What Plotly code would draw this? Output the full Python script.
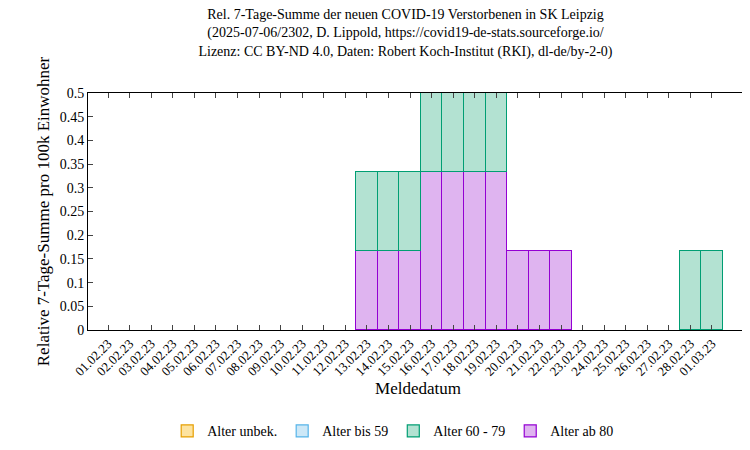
import plotly.graph_objects as go

dates = ["01.02.23","02.02.23","03.02.23","04.02.23","05.02.23","06.02.23","07.02.23","08.02.23",
         "09.02.23","10.02.23","11.02.23","12.02.23","13.02.23","14.02.23","15.02.23","16.02.23",
         "17.02.23","18.02.23","19.02.23","20.02.23","21.02.23","22.02.23","23.02.23","24.02.23",
         "25.02.23","26.02.23","27.02.23","28.02.23","01.03.23"]
unbek = [0]*29
bis59 = [0]*29
a60_79 = [0]*12 + [0.167,0.167,0.167,0.167,0.167,0.167,0.167] + [0]*8 + [0.167,0.167]
ab80 = [0]*12 + [0.167,0.167,0.167,0.333,0.333,0.333,0.333,0.167,0.167,0.167] + [0]*7

x = list(range(len(dates)))
series = [("Alter ab 80", ab80, "#dfb4f0", "#9400d3"),
          ("Alter 60 - 79", a60_79, "#b3e2d2", "#009e73"),
          ("Alter bis 59", bis59, "#cde8f7", "#56b4e9"),
          ("Alter unbek.", unbek, "#fde3a0", "#e69f00")]

fig = go.Figure()
for name, vals, fill, line in series:
    yv = [v if v else None for v in vals]
    fig.add_trace(go.Bar(x=x, y=yv, name=name, marker=dict(color=fill, line=dict(color=line, width=1.2))))

fig.update_layout(
    barmode="stack", bargap=0, width=750, height=450,
    font=dict(family="Liberation Serif, Times New Roman, serif", size=14, color="black"),
    plot_bgcolor="white", paper_bgcolor="white",
    margin=dict(l=80, r=10, t=85, b=99),
    title=dict(text="Rel. 7-Tage-Summe der neuen COVID-19 Verstorbenen in SK Leipzig<br>(2025-07-06/2302, D. Lippold, https://covid19-de-stats.sourceforge.io/<br>Lizenz: CC BY-ND 4.0, Daten: Robert Koch-Institut (RKI), dl-de/by-2-0)",
               x=0.53, xanchor="center", y=0.975, yanchor="top", font=dict(size=14)),
    legend=dict(orientation="h", x=0.12, y=-0.36, xanchor="left", yanchor="top",
                font=dict(size=14), traceorder="reversed"),
    showlegend=True,
)
fig.update_xaxes(range=[-0.93, 29.67], tickvals=x, ticktext=dates, tickangle=-45,
                 showline=True, linecolor="black", mirror="ticks", ticks="inside", ticklen=5,
                 title=dict(text="Meldedatum", standoff=0), tickfont=dict(size=13))
fig.update_yaxes(range=[0, 0.5], dtick=0.05, showgrid=False, zeroline=False,
                 showline=True, linecolor="black", mirror="ticks", ticks="inside", ticklen=5,
                 title=dict(text="Relative 7-Tage-Summe pro 100k Einwohner", standoff=5),
                 tickformat="~g", tickfont=dict(size=14))
fig.write_html("out.html")
